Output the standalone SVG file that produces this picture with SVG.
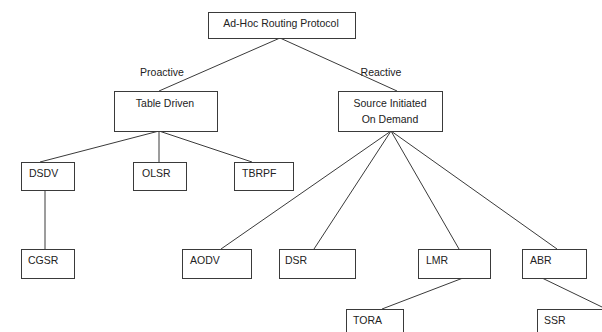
<svg xmlns="http://www.w3.org/2000/svg" width="602" height="332" viewBox="0 0 602 332">
<style>
.box{fill:#fff;stroke:#3a3a3a;stroke-width:1}
.t{font-family:"Liberation Sans",Arial,sans-serif;font-size:10.5px;fill:#222}
.c{text-anchor:middle}
.ln{stroke:#3a3a3a;stroke-width:1;fill:none}
</style>
<rect width="602" height="332" fill="#fff"/>
<g id="connectors">
<line class="ln" x1="280" y1="38" x2="159" y2="91"/>
<line class="ln" x1="280" y1="38" x2="397" y2="91"/>
<line class="ln" x1="159" y1="131" x2="40" y2="162"/>
<line class="ln" x1="159" y1="131" x2="159" y2="162"/>
<line class="ln" x1="159" y1="131" x2="252" y2="162"/>
<line class="ln" x1="45" y1="190" x2="45" y2="249"/>
<line class="ln" x1="391" y1="131" x2="221" y2="249"/>
<line class="ln" x1="391" y1="131" x2="314" y2="249"/>
<line class="ln" x1="391" y1="131" x2="459" y2="249"/>
<line class="ln" x1="391" y1="131" x2="557" y2="249"/>
<line class="ln" x1="463" y1="278" x2="382" y2="309"/>
<line class="ln" x1="542" y1="278" x2="602" y2="307"/>
<text class="t c" x="162" y="76">Proactive</text>
<text class="t c" x="381" y="76">Reactive</text>
</g>
<g id="adhoc"><rect class="box" x="208.5" y="12.5" width="147" height="26"/><text class="t c" x="281" y="27">Ad-Hoc Routing Protocol</text></g>
<g id="tabledriven"><rect class="box" x="114.5" y="91.5" width="103" height="40"/><text class="t c" x="165" y="107">Table Driven</text></g>
<g id="source"><rect class="box" x="338.5" y="91.5" width="104" height="40"/><text class="t c" x="390" y="107">Source Initiated</text><text class="t c" x="390" y="123">On Demand</text></g>
<g id="dsdv"><rect class="box" x="21.5" y="162.5" width="53" height="28"/><text class="t" x="29" y="177">DSDV</text></g>
<g id="olsr"><rect class="box" x="133.5" y="162.5" width="53" height="28"/><text class="t" x="142" y="177">OLSR</text></g>
<g id="tbrpf"><rect class="box" x="234.5" y="162.5" width="59" height="28"/><text class="t" x="242" y="177">TBRPF</text></g>
<g id="cgsr"><rect class="box" x="21.5" y="249.5" width="53" height="29"/><text class="t" x="28" y="264">CGSR</text></g>
<g id="aodv"><rect class="box" x="182.5" y="249.5" width="69" height="29"/><text class="t" x="190" y="264">AODV</text></g>
<g id="dsr"><rect class="box" x="279.5" y="249.5" width="76" height="29"/><text class="t" x="285" y="264">DSR</text></g>
<g id="lmr"><rect class="box" x="418.5" y="249.5" width="72" height="29"/><text class="t" x="426" y="264">LMR</text></g>
<g id="abr"><rect class="box" x="522.5" y="249.5" width="64" height="29"/><text class="t" x="530" y="264">ABR</text></g>
<g id="tora"><rect class="box" x="346.5" y="309.5" width="57" height="30"/><text class="t" x="353" y="324">TORA</text></g>
<g id="ssr"><rect class="box" x="537.5" y="309.5" width="70" height="30"/><text class="t" x="544" y="324">SSR</text></g>
</svg>
